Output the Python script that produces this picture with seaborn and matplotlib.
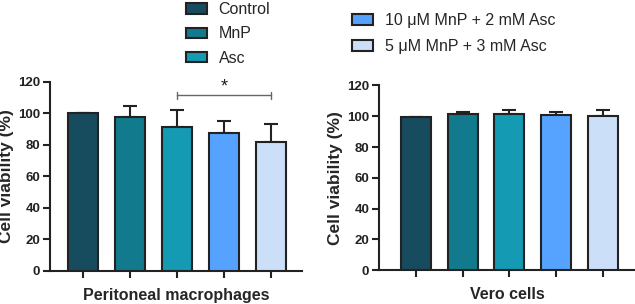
import matplotlib
matplotlib.use("Agg")
import matplotlib.pyplot as plt
import seaborn as sns
import numpy as np
import pandas as pd
from matplotlib.patches import Patch

sns.set_theme(style="ticks")
plt.rcParams['font.family'] = ['Liberation Sans', 'DejaVu Sans']

groups = ["Control", "MnP", "Asc", "10 \u03bcM MnP + 2 mM Asc", "5 \u03bcM MnP + 3 mM Asc"]
colors = ["#174B5E", "#117A8C", "#149AB3", "#56A3FF", "#CCDFF8"]

macro_mean = [100.0, 97.6, 91.2, 87.6, 81.5]
macro_err = [0.0, 7.0, 10.8, 7.6, 11.6]
vero_mean = [99.6, 101.2, 101.2, 100.8, 100.3]
vero_err = [0.0, 1.7, 2.8, 2.1, 3.7]

ylabel = "Cell viability (%)"
xlabels = ["Peritoneal macrophages", "Vero cells"]
yticks = [0, 20, 40, 60, 80, 100, 120]

EDGE = "#222222"

fig = plt.figure(figsize=(6.35, 3.04), dpi=100)
ax1 = fig.add_axes([0.0787, 0.1086, 0.397, 0.6227])
ax2 = fig.add_axes([0.597, 0.111, 0.403, 0.608])

for ax, means, errs, xl, xlim in [(ax1, macro_mean, macro_err, xlabels[0], (-0.70, 4.66)),
                                   (ax2, vero_mean, vero_err, xlabels[1], (-0.79, 4.69))]:
    df = pd.DataFrame({"group": groups, "value": means})
    sns.barplot(data=df, x="group", y="value", hue="group", palette=colors,
                order=groups, hue_order=groups, legend=False, ax=ax, saturation=1,
                width=0.64, edgecolor=EDGE, linewidth=1.5, errorbar=None, zorder=3)
    ax.errorbar(np.arange(len(groups)), means, yerr=[np.zeros(len(errs)), errs],
                fmt="none", ecolor=EDGE, elinewidth=1.5, capsize=5, capthick=1.5, zorder=2)
    ax.set_ylim(0, 120)
    ax.set_xlim(*xlim)
    ax.set_yticks(yticks)
    ax.set_xticklabels([])
    ax.set_xlabel(xl, fontsize=11.5, fontweight="bold", labelpad=5)
    ax.set_ylabel(ylabel, fontsize=12.5, fontweight="bold", labelpad=3)
    for lab in ax.get_yticklabels():
        lab.set_fontweight("bold")
        lab.set_fontsize(9.5)
    ax.tick_params(axis="both", width=1.5, length=5, color=EDGE, labelcolor=EDGE, pad=2)
    for s in ["left", "bottom"]:
        ax.spines[s].set_linewidth(1.5)
        ax.spines[s].set_color(EDGE)
    sns.despine(ax=ax)
    ax.patch.set_alpha(0)

# significance bracket on left panel
ax1.plot([2, 4], [111.3, 111.3], color="#666666", lw=1.0, clip_on=False)
ax1.plot([2, 2], [109.1, 113.5], color="#666666", lw=1.0, clip_on=False)
ax1.plot([4, 4], [109.1, 113.5], color="#666666", lw=1.0, clip_on=False)
ax1.text(3, 116.5, "*", ha="center", va="center", fontsize=13, color=EDGE)

h1 = [Patch(facecolor=c, edgecolor=EDGE, linewidth=1.5) for c in colors[:3]]
h2 = [Patch(facecolor=c, edgecolor=EDGE, linewidth=1.5) for c in colors[3:]]
fig.legend(h1, groups[:3], loc="upper left", bbox_to_anchor=(0.27, 1.04), frameon=False,
           fontsize=11.5, handlelength=1.3, handleheight=0.65, labelspacing=0.58,
           handletextpad=0.75)
fig.legend(h2, groups[3:], loc="upper left", bbox_to_anchor=(0.532, 1.005), frameon=False,
           fontsize=11.5, handlelength=1.3, handleheight=0.65, labelspacing=0.69,
           handletextpad=0.75)

fig.savefig("out.png", dpi=100, facecolor="white")
